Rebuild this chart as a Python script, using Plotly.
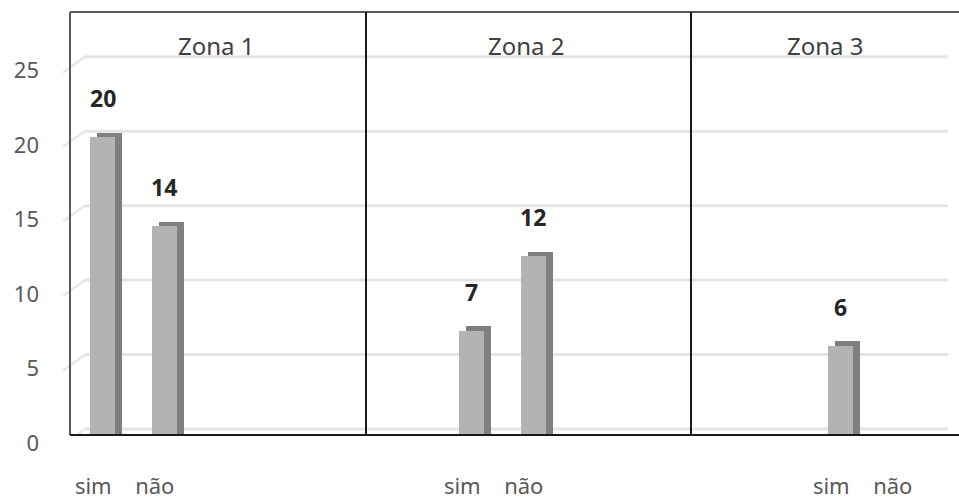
import plotly.graph_objects as go

zones = ["Zona 1", "Zona 2", "Zona 3"]
categories = ["sim", "não"]
values = {
    "Zona 1": [20, 14],
    "Zona 2": [7, 12],
    "Zona 3": [6, 0],
}
y_ticks = [0, 5, 10, 15, 20, 25]

# slot positions on a numeric category axis: 6 slots per zone
slots = {"Zona 1": [0, 1], "Zona 2": [6, 7], "Zona 3": [12, 13]}

xs, ys, tick_text = [], [], []
for z in zones:
    for i, c in enumerate(categories):
        xs.append(slots[z][i])
        ys.append(values[z][i])
        tick_text.append(c)

W, H = 959, 500
ml, mr, mt, mb = 70, 0, 12, 62
px_x = 61.5           # pixels per slot
px_y = 15.0           # pixels per unit
plot_w = W - ml - mr
plot_h = H - mt - mb
x0 = -(32.5 / px_x)
x1 = x0 + plot_w / px_x
y1 = plot_h / px_y

bar_w = 25 / px_x
side_dx = 7 / px_x
side_dy = 4.5 / px_y

front = "#b3b3b3"
side = "#7f7f7f"

fig = go.Figure()
fig.add_trace(go.Bar(
    x=[x + side_dx for x in xs],
    y=[v + side_dy if v > 0 else 0 for v in ys],
    width=bar_w, marker=dict(color=side, line=dict(width=0)),
    hoverinfo="skip", showlegend=False))
fig.add_trace(go.Bar(
    x=xs, y=ys, width=bar_w,
    marker=dict(color=front, line=dict(width=0)),
    showlegend=False))

shapes = []
grid_off = 6 / px_y
for v in y_ticks:
    gy = v + grid_off
    shapes.append(dict(type="line", xref="paper", yref="y",
                       x0=(85 - ml) / plot_w, x1=(948 - ml) / plot_w, y0=gy, y1=gy,
                       line=dict(color="#e4e4e4", width=3), layer="below"))
    shapes.append(dict(type="line", xref="paper", yref="y",
                       x0=(63 - ml) / plot_w, x1=(85 - ml) / plot_w,
                       y0=gy - 16 / px_y, y1=gy,
                       line=dict(color="#e4e4e4", width=2), layer="below"))

# panel frame
shapes.append(dict(type="line", xref="paper", yref="paper", x0=0, x1=1, y0=1, y1=1,
                   line=dict(color="#595959", width=2)))
shapes.append(dict(type="line", xref="paper", yref="paper", x0=0, x1=0, y0=0, y1=1,
                   line=dict(color="#595959", width=2)))
shapes.append(dict(type="line", xref="paper", yref="paper", x0=0, x1=1, y0=0, y1=0,
                   line=dict(color="#1a1a1a", width=2)))
for sx in [366, 691]:
    f = (sx - ml) / plot_w
    shapes.append(dict(type="line", xref="paper", yref="paper", x0=f, x1=f, y0=0, y1=1,
                       line=dict(color="#1a1a1a", width=2)))

annotations = []
panel_centers = [216, 526, 825]
for z, cx in zip(zones, panel_centers):
    annotations.append(dict(text=z, xref="paper", yref="paper",
                            x=(cx - ml) / plot_w, y=(H - mb - 46) / plot_h,
                            showarrow=False, xanchor="center", yanchor="middle",
                            font=dict(family="Noto Sans", size=24, color="#404040")))
for x, v in zip(xs, ys):
    if v > 0:
        annotations.append(dict(text=f"<b>{v}</b>", x=x, y=v, xref="x", yref="y",
                                showarrow=False, yshift=39, yanchor="middle",
                                font=dict(family="Noto Sans", size=23, color="#262626")))

fig.update_layout(
    width=W, height=H,
    margin=dict(l=ml, r=mr, t=mt, b=mb),
    paper_bgcolor="white", plot_bgcolor="white",
    barmode="overlay", bargap=0,
    shapes=shapes, annotations=annotations,
    xaxis=dict(range=[x0, x1], tickvals=[x - 0.15 for x in xs], ticktext=tick_text,
               showgrid=False, zeroline=False, showline=False, ticks="",
               ticklabelstandoff=36,
               tickfont=dict(family="Noto Sans", size=22, color="#595959")),
    yaxis=dict(range=[0, y1], tickvals=y_ticks, showgrid=False, zeroline=False,
               showline=False, ticks="", ticklabelshift=8, ticklabelstandoff=30,
               tickfont=dict(family="Noto Sans", size=22, color="#595959")),
)

fig.write_html("out.html")
